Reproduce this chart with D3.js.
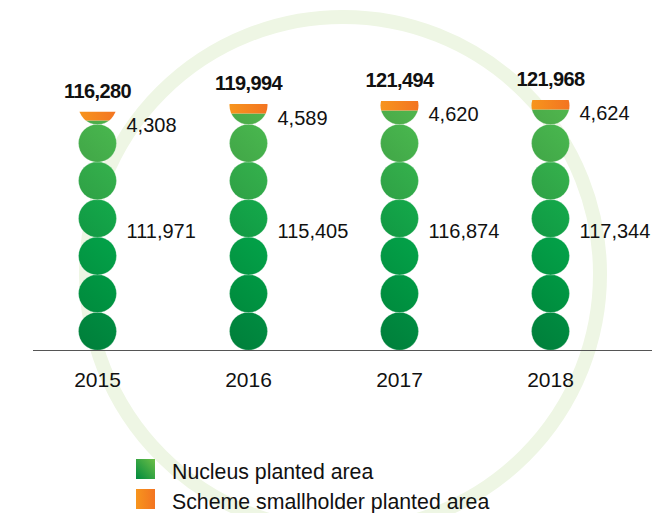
<!DOCTYPE html>
<html>
<head>
<meta charset="utf-8">
<script src="https://cdn.jsdelivr.net/npm/d3@7"></script>
<style>
  html, body { margin: 0; padding: 0; background: #fff; }
  svg { display: block; font-family: "Liberation Sans", Arial, Helvetica, sans-serif; }
</style>
</head>
<body>
<div id="chart"></div>
<script>
// planted area (ha) by year
const years = ["2015", "2016", "2017", "2018"];
const totals = [116280, 119994, 121494, 121968];
const nucleus = [111971, 115405, 116874, 117344];
const smallholder = [4308, 4589, 4620, 4624];
const legendLabels = ["Nucleus planted area", "Scheme smallholder planted area"];

const width = 652, height = 513;
const baseY = 350;

const svg = d3.select("#chart")
    .append("svg")
    .attr("width", width)
    .attr("height", height);

const defs = svg.append("defs");

const x = d3.scaleBand()
    .domain(years)
    .range([22, 626])
    .padding(0);

const y = d3.scaleLinear()
    .domain([0, 125000])
    .range([baseY, 93.75]);

const fmt = d3.format(",");

// pale ring in the background
svg.append("circle")
    .attr("cx", 343)
    .attr("cy", 274)
    .attr("r", 257)
    .attr("fill", "none")
    .attr("stroke", "#eef6e4")
    .attr("stroke-width", 14);

// gradients, darker at the bottom of each stack
const step = 37.6, r = 19;
const maxCircles = Math.ceil((baseY - y(d3.max(totals))) / step);
const shade = d3.interpolateRgbBasis(["#00843d", "#00913f", "#009a45", "#0f9e46", "#34a748", "#46ad4a", "#4db04b"]);

d3.range(maxCircles).forEach(i => {
    const base = d3.color(shade(i / (maxCircles - 1)));
    const g = defs.append("linearGradient")
        .attr("id", "g" + i)
        .attr("x1", 0).attr("y1", 1)
        .attr("x2", 1).attr("y2", 0);
    g.append("stop").attr("offset", 0).attr("stop-color", base.darker(0.12));
    g.append("stop").attr("offset", 1).attr("stop-color", base.brighter(0.18));
});

const og = defs.append("linearGradient").attr("id", "orange");
og.append("stop").attr("offset", 0).attr("stop-color", "#f7951d");
og.append("stop").attr("offset", 1).attr("stop-color", "#f37421");

const lg = defs.append("linearGradient").attr("id", "legendGreen")
    .attr("x1", 0).attr("y1", 1).attr("x2", 1).attr("y2", 0);
lg.append("stop").attr("offset", 0).attr("stop-color", "#008a3e");
lg.append("stop").attr("offset", 1).attr("stop-color", "#6cbf47");

// columns of circles
years.forEach((yr, j) => {
    const cx = x(yr) + x.bandwidth() / 2;
    const n = Math.ceil((baseY - y(totals[j])) / step);

    defs.append("clipPath").attr("id", "cg" + j)
        .append("rect")
        .attr("x", cx - 25).attr("width", 50)
        .attr("y", y(nucleus[j]))
        .attr("height", baseY - y(nucleus[j]));

    defs.append("clipPath").attr("id", "co" + j)
        .append("rect")
        .attr("x", cx - 25).attr("width", 50)
        .attr("y", y(totals[j]))
        .attr("height", y(nucleus[j]) - y(totals[j]));

    const col = svg.append("g").attr("class", "col");

    col.append("g").attr("clip-path", `url(#cg${j})`)
        .selectAll("circle")
        .data(d3.range(n))
        .join("circle")
        .attr("cx", cx)
        .attr("cy", i => baseY - step * i - step / 2)
        .attr("r", r)
        .attr("fill", i => `url(#g${i})`)
        .attr("stroke", "#fff")
        .attr("stroke-opacity", 0.5)
        .attr("stroke-width", 0.5);

    col.append("g").attr("clip-path", `url(#co${j})`)
        .selectAll("circle")
        .data(d3.range(n))
        .join("circle")
        .attr("cx", cx)
        .attr("cy", i => baseY - step * i - step / 2)
        .attr("r", r)
        .attr("fill", "url(#orange)");

    // total on top
    svg.append("text")
        .attr("x", cx)
        .attr("y", y(totals[j]) - 14)
        .attr("text-anchor", "middle")
        .attr("font-size", "20px")
        .attr("font-weight", "bold")
        .attr("letter-spacing", "-0.6px")
        .attr("fill", "#111")
        .text(fmt(totals[j]));

    // smallholder value
    svg.append("text")
        .attr("x", cx + 29)
        .attr("y", y(totals[j]) + 20.5)
        .attr("font-size", "20px")
        .attr("fill", "#111")
        .text(fmt(smallholder[j]));

    // nucleus value
    svg.append("text")
        .attr("x", cx + 29)
        .attr("y", 238)
        .attr("font-size", "20px")
        .attr("fill", "#111")
        .text(fmt(nucleus[j]));
});

// baseline + year labels
svg.append("line")
    .attr("x1", 33).attr("x2", width)
    .attr("y1", baseY + 0.5).attr("y2", baseY + 0.5)
    .attr("stroke", "#555")
    .attr("stroke-width", 1);

const xAxis = svg.append("g")
    .attr("transform", `translate(0,${baseY})`)
    .call(d3.axisBottom(x).tickSize(0).tickPadding(22));
xAxis.select(".domain").remove();
xAxis.selectAll("text")
    .attr("font-size", "21px")
    .attr("fill", "#111")
    .style("font-family", "'Liberation Sans', Arial, sans-serif");

// legend
const legend = svg.append("g").attr("transform", "translate(136,459)");
const legendFills = ["url(#legendGreen)", "url(#orange)"];
legendLabels.forEach((t, i) => {
    legend.append("rect")
        .attr("x", 0).attr("y", i * 30)
        .attr("width", 19).attr("height", 20)
        .attr("fill", legendFills[i]);
    legend.append("text")
        .attr("x", 36).attr("y", i * 30 + 19.5)
        .attr("font-size", "21.3px")
        .attr("fill", "#111")
        .text(t);
});
</script>
</body>
</html>
